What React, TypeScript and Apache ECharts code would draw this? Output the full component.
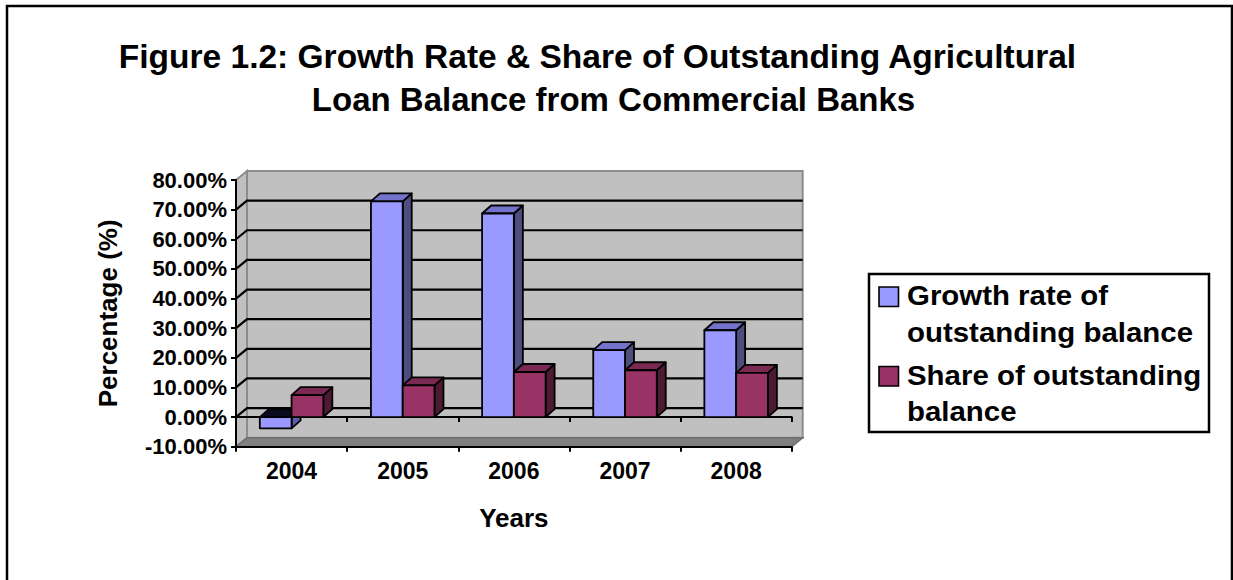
import React, { useEffect, useRef } from "react";
import * as echarts from "echarts";

// ---- data ----
const years = ["2004", "2005", "2006", "2007", "2008"];
const growthRate = [-3.8, 72.8, 68.7, 22.6, 29.3];
const shareOfBalance = [7.4, 10.7, 15.2, 15.8, 14.9];
const seriesNames = ["Growth rate of outstanding balance", "Share of outstanding balance"];
const legendLines = [
  ["Growth rate of", "outstanding balance"],
  ["Share of outstanding", "balance"],
];
const titleLines = [
  "Figure 1.2: Growth Rate & Share of Outstanding Agricultural",
  "Loan Balance from Commercial Banks",
];
const yMin = -10;
const yMax = 80;
const yStep = 10;
const xAxisName = "Years";
const yAxisName = "Percentage (%)";

// ---- style ----
const FONT = "'Liberation Sans', Arial, Helvetica, sans-serif";
const WALL = { dx: 11, dy: -9 };
const BAR = { dx: 9, dy: -8 };
const palettes = [
  { front: "#9999FF", top: "#7373CC", side: "#4D4D80", topNeg: "#0A0A1E", sideNeg: "#5F5FA8" },
  { front: "#993366", top: "#7A2952", side: "#4D1A33", topNeg: "#1E0A14", sideNeg: "#6B2447" },
];

function renderWalls(params: any, api: any) {
  const band = api.size([1, 0])[0];
  const L = api.coord([0, 0])[0] - band / 2;
  const R = api.coord([years.length - 1, 0])[0] + band / 2;
  const y = (v: number) => api.coord([0, v])[1];
  const { dx, dy } = WALL;
  const yt = y(yMax);
  const yb = y(yMin);
  const children: any[] = [
    {
      type: "polygon",
      shape: { points: [[L + dx, yt + dy], [R + dx, yt + dy], [R + dx, yb + dy], [L + dx, yb + dy]] },
      style: { fill: "#C0C0C0", stroke: "#8C8C8C", lineWidth: 2 },
    },
    {
      type: "polygon",
      shape: { points: [[L, yt], [L + dx, yt + dy], [L + dx, yb + dy], [L, yb]] },
      style: { fill: "#C0C0C0", stroke: "#8C8C8C", lineWidth: 2 },
    },
    {
      type: "polygon",
      shape: { points: [[L, yb], [R, yb], [R + dx, yb + dy], [L + dx, yb + dy]] },
      style: { fill: "#808080", stroke: "#6E6E6E", lineWidth: 1.5 },
    },
  ];
  for (let v = yMin + yStep; v < yMax; v += yStep) {
    const yy = y(v);
    children.push({
      type: "polyline",
      shape: { points: [[L, yy], [L + dx, yy + dy], [R + dx, yy + dy]] },
      style: { stroke: "#000", lineWidth: 2.2, fill: "none" },
    });
  }
  return { type: "group", children };
}

function makeBarRenderer(k: number) {
  return (params: any, api: any) => {
    const cat = api.value(0);
    const val = api.value(1);
    const band = api.size([1, 0])[0];
    const w = band / 3.5;
    const cx = api.coord([cat, 0])[0];
    const y0 = api.coord([cat, 0])[1];
    const y1 = api.coord([cat, val])[1];
    const left = k === 0 ? cx - w : cx;
    const right = left + w;
    const yt = Math.min(y0, y1);
    const yb = Math.max(y0, y1);
    const neg = val < 0;
    const p = palettes[k];
    const { dx, dy } = BAR;
    const stroke = { stroke: "#000", lineWidth: 1.8, lineJoin: "round" };
    return {
      type: "group",
      children: [
        {
          type: "polygon",
          shape: { points: [[right, yt], [right + dx, yt + dy], [right + dx, yb + dy], [right, yb]] },
          style: { fill: neg ? p.sideNeg : p.side, ...stroke },
        },
        {
          type: "polygon",
          shape: { points: [[left, yt], [right, yt], [right + dx, yt + dy], [left + dx, yt + dy]] },
          style: { fill: neg ? p.topNeg : p.top, ...stroke },
        },
        {
          type: "rect",
          shape: { x: left, y: yt, width: w, height: yb - yt },
          style: { fill: p.front, ...stroke },
        },
      ],
    };
  };
}

export default function App() {
  const ref = useRef<HTMLDivElement>(null);
  useEffect(() => {
    if (!ref.current) return;
    const chart = echarts.init(ref.current, undefined, { renderer: "svg" });
    const legendGraphic: any[] = [
      {
        type: "rect",
        shape: { x: 869, y: 274, width: 340, height: 158 },
        style: { fill: "#fff", stroke: "#000", lineWidth: 2.5 },
        z: 10,
      },
    ];
    const markerY = [287, 366.5];
    const textTop = [277.5, 357];
    legendLines.forEach((lines, i) => {
      legendGraphic.push({
        type: "rect",
        shape: { x: 879, y: markerY[i], width: 19.5, height: 19.5 },
        style: { fill: palettes[i].front, stroke: "#000", lineWidth: 1.6 },
        z: 11,
      });
      legendGraphic.push({
        type: "text",
        x: 907,
        y: textTop[i],
        scaleX: 1.07,
        style: {
          text: lines.join("\n"),
          font: `bold 27.5px ${FONT}`,
          fill: "#000",
          lineHeight: 36.5,
          textAlign: "left",
          textVerticalAlign: "top",
          verticalAlign: "top",
        },
        z: 11,
      });
    });

    const option: any = {
      animation: false,
      backgroundColor: "#fff",
      textStyle: { fontFamily: FONT },
      grid: { left: 236, right: 441.3, top: 180, bottom: 133.3, containLabel: false },
      xAxis: [
        {
          type: "category",
          data: years,
          position: "bottom",
          z: 3,
          axisLine: { onZero: false, lineStyle: { color: "#000", width: 2 } },
          axisTick: { show: true, length: 5, lineStyle: { color: "#000", width: 2 } },
          axisLabel: { margin: 13, color: "#000", fontWeight: "bold", fontSize: 23, fontFamily: FONT },
          name: xAxisName,
          nameLocation: "middle",
          nameGap: 58,
          nameTextStyle: { color: "#000", fontWeight: "bold", fontSize: 26, fontFamily: FONT },
          splitLine: { show: false },
        },
        {
          type: "category",
          data: years,
          position: "bottom",
          z: 3,
          axisLine: { onZero: true, lineStyle: { color: "#000", width: 2 } },
          axisTick: { show: true, length: 5, lineStyle: { color: "#000", width: 2 } },
          axisLabel: { show: false },
          splitLine: { show: false },
        },
      ],
      yAxis: {
        type: "value",
        min: yMin,
        max: yMax,
        interval: yStep,
        z: 3,
        axisLine: { show: true, lineStyle: { color: "#000", width: 2 } },
        axisTick: { show: true, length: 5, lineStyle: { color: "#000", width: 2 } },
        axisLabel: {
          margin: 9,
          color: "#000",
          fontWeight: "bold",
          fontSize: 22,
          fontFamily: FONT,
          formatter: (v: number) => v.toFixed(2) + "%",
        },
        splitLine: { show: false },
        name: yAxisName,
        nameLocation: "middle",
        nameRotate: 90,
        nameGap: 115,
        nameTextStyle: { color: "#000", fontWeight: "bold", fontSize: 26, fontFamily: FONT },
      },
      series: [
        {
          type: "custom",
          name: "walls",
          silent: true,
          z: 1,
          xAxisIndex: 0,
          yAxisIndex: 0,
          data: [[0, 0]],
          renderItem: renderWalls,
        },
        {
          type: "custom",
          name: seriesNames[0],
          silent: true,
          z: 5,
          xAxisIndex: 0,
          yAxisIndex: 0,
          encode: { x: 0, y: 1 },
          data: growthRate.map((v, i) => [i, v]),
          renderItem: makeBarRenderer(0),
        },
        {
          type: "custom",
          name: seriesNames[1],
          silent: true,
          z: 6,
          xAxisIndex: 0,
          yAxisIndex: 0,
          encode: { x: 0, y: 1 },
          data: shareOfBalance.map((v, i) => [i, v]),
          renderItem: makeBarRenderer(1),
        },
      ],
      graphic: [
        {
          type: "rect",
          shape: { x: 7, y: 6, width: 1225, height: 640 },
          style: { fill: "none", stroke: "#000", lineWidth: 2.5 },
          z: 10,
        },
        {
          type: "text",
          x: 597.5,
          y: 56.5,
          style: {
            text: titleLines[0],
            font: `bold 33.5px ${FONT}`,
            fill: "#000",
            textAlign: "center",
            textVerticalAlign: "middle",
            verticalAlign: "middle",
          },
          z: 10,
        },
        {
          type: "text",
          x: 613.5,
          y: 99.5,
          style: {
            text: titleLines[1],
            font: `bold 33px ${FONT}`,
            fill: "#000",
            textAlign: "center",
            textVerticalAlign: "middle",
            verticalAlign: "middle",
          },
          z: 10,
        },
        ...legendGraphic,
      ],
    };
    chart.setOption(option);
    return () => chart.dispose();
  }, []);
  return (
    <div
      ref={ref}
      style={{ position: "absolute", left: 0, top: 0, width: 1233, height: 580, background: "#fff" }}
    />
  );
}
